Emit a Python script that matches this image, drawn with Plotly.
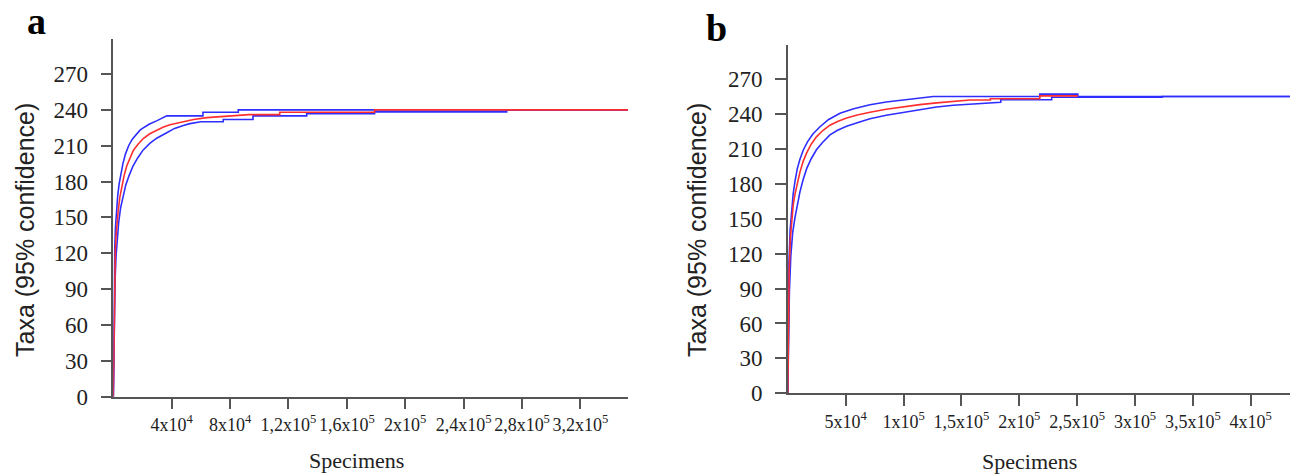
import plotly.graph_objects as go

# ---- panel a : rarefaction (specimens -> taxa); repeated x values mark the plateau steps ----
a_mean_x = [0, 300, 600, 1000, 1400, 1850, 2600, 3400, 4500, 5750, 7400, 9200, 11400, 13700,
            16800, 20500, 25000, 29700, 34000, 38800, 45700, 55000, 64000, 75000, 93000,
            114000, 114000, 179000, 179000, 352600]
a_mean_y = [0, 40, 75, 105, 122, 134, 146, 156, 167, 176, 185, 193, 200, 206,
            211, 216, 220, 223, 225.5, 227.5, 229.5, 232, 233.5, 234.5, 236,
            236, 238, 238, 240, 240]

a_up_x = [0, 300, 600, 1000, 1500, 2200, 3000, 4000, 5200, 6600, 8300, 10500, 13000, 16000,
          18300, 20000, 24500, 30000, 33000, 36600, 61400, 61400, 85600, 85600, 352600]
a_up_y = [0, 60, 100, 125, 142, 157, 168, 178, 187, 195, 203, 210, 215.5, 220,
          223, 224.5, 228, 231, 233, 235, 235, 238, 238, 240, 240]

a_lo_x = [0, 400, 800, 1300, 1900, 2700, 3700, 5000, 6600, 8500, 10800, 13500, 16800, 20500,
          25000, 30000, 36000, 42000, 48000, 52500, 60000, 75300, 75300, 95700, 95700,
          132500, 132500, 179000, 179000, 269500, 269500, 352600]
a_lo_y = [0, 40, 75, 100, 118, 133, 146, 158, 168, 177, 185, 193, 200, 206.5,
          212, 216.5, 220.5, 224.5, 227, 228.5, 230, 230, 232, 232, 235,
          235, 236.8, 236.8, 238.3, 238.3, 240, 240]

# ---- panel b ----
b_mean_x = [0, 500, 1200, 2200, 3400, 4700, 6200, 8200, 10500, 13200, 16300, 20200, 24900,
            30000, 36400, 43000, 50800, 60000, 71000, 85000, 99800, 114000, 128600, 143000,
            157400, 175000, 175000, 217700, 217700, 250600]
b_mean_y = [0, 60, 105, 133, 151, 162, 171, 181, 190, 199, 206.5, 214, 220.5,
            225.5, 230.3, 233.5, 236.5, 239, 241.5, 244, 246.2, 248, 249.5, 250.8,
            252, 252, 253, 253, 255.5, 255.5]

b_up_x = [0, 400, 1000, 2000, 3200, 4600, 6200, 8200, 10500, 13400, 17000, 21500, 27800,
          35000, 45100, 57000, 71000, 85000, 99800, 112000, 125700, 125700, 217700, 217700,
          250600, 250600, 433900]
b_up_y = [0, 70, 112, 140, 158, 171, 182, 193, 201, 209, 216, 222.5, 229,
          235, 240.6, 244.5, 247.8, 250.2, 252, 253.2, 254.5, 255, 255, 257,
          257, 255, 255]

b_lo_x = [0, 600, 1400, 2600, 4200, 6200, 8200, 10500, 13200, 16300, 20200, 24900, 30000,
          36400, 43000, 50800, 60000, 71000, 85000, 99800, 114000, 128600, 143000, 157400,
          172000, 184000, 184000, 228000, 228000, 323500, 323500, 433900]
b_lo_y = [0, 45, 88, 118, 138, 151, 163, 173, 183.5, 193, 201.5, 209.4, 215.5,
          222, 226, 229.4, 232.5, 235.8, 238.8, 241.4, 243.6, 246, 247.5, 248.5,
          249.5, 250, 252.2, 252.2, 254.3, 254.3, 255, 255]

a_tickvals = [40000, 80000, 120000, 160000, 200000, 240000, 280000, 320000]
a_ticktext = ["4x10<sup>4</sup>", "8x10<sup>4</sup>", "1,2x10<sup>5</sup>", "1,6x10<sup>5</sup>",
              "2x10<sup>5</sup>", "2,4x10<sup>5</sup>", "2,8x10<sup>5</sup>", "3,2x10<sup>5</sup>"]
b_tickvals = [50000, 100000, 150000, 200000, 250000, 300000, 350000, 400000]
b_ticktext = ["5x10<sup>4</sup>", "1x10<sup>5</sup>", "1,5x10<sup>5</sup>", "2x10<sup>5</sup>",
              "2,5x10<sup>5</sup>", "3x10<sup>5</sup>", "3,5x10<sup>5</sup>", "4x10<sup>5</sup>"]
y_tickvals = [0, 30, 60, 90, 120, 150, 180, 210, 240, 270]

# body margin is removed after plotting (post_script), so the figure fills the window
W, H = 1298, 474
BLUE = "#2e2eff"
RED = "#ff2e2e"


def px(x):
    return x / W


def py(y):
    return 1 - y / H


fig = go.Figure()


def add_curves(xs_lo, ys_lo, xs_up, ys_up, xs_m, ys_m, xa, ya):
    for xs, ys, c in [(xs_lo, ys_lo, BLUE), (xs_up, ys_up, BLUE), (xs_m, ys_m, RED)]:
        fig.add_trace(go.Scatter(x=xs, y=ys, mode="lines", line=dict(color=c, width=1.6),
                                 xaxis=xa, yaxis=ya, hoverinfo="skip"))


add_curves(a_lo_x, a_lo_y, a_up_x, a_up_y, a_mean_x, a_mean_y, "x", "y")
add_curves(b_lo_x, b_lo_y, b_up_x, b_up_y, b_mean_x, b_mean_y, "x2", "y2")

axis_style = dict(showline=True, linecolor="#555555", linewidth=1.5, ticks="outside", ticklen=11,
                  tickwidth=1.5, tickcolor="#555555", showgrid=False, zeroline=False,
                  automargin=False)
xfont = dict(family="Liberation Serif", size=18, color="#222222")
yfont = dict(family="Liberation Serif", size=23, color="#222222")

fig.update_layout(
    width=W, height=H,
    margin=dict(l=0, r=0, t=0, b=0, autoexpand=False),
    plot_bgcolor="white", paper_bgcolor="white",
    showlegend=False,
    xaxis=dict(axis_style, domain=[px(113.3), px(628)], range=[0, 352600],
               tickvals=a_tickvals, ticktext=a_ticktext, tickfont=xfont, anchor="y"),
    yaxis=dict(axis_style, domain=[py(396.7), py(39)], range=[0, 299.3],
               tickvals=y_tickvals, tickfont=yfont, anchor="x", ticklabelstandoff=8),
    xaxis2=dict(axis_style, domain=[px(787.8), px(1290)], range=[0, 433900],
                tickvals=b_tickvals, ticktext=b_ticktext, tickfont=xfont, anchor="y2"),
    yaxis2=dict(axis_style, domain=[py(393.3), py(45)], range=[0, 299.2],
                tickvals=y_tickvals, tickfont=yfont, anchor="x2", ticklabelstandoff=8),
)

ann = []
for x, y in [(356, 460), (1029, 461)]:
    ann.append(dict(text="Specimens", x=px(x), y=py(y),
                    font=dict(family="Liberation Serif", size=22, color="#222222")))
for x, y in [(25, 230), (697, 230)]:
    ann.append(dict(text="Taxa (95% confidence)", x=px(x), y=py(y), textangle=-90,
                    font=dict(family="Liberation Sans", size=25, color="#222222")))
for t, x, y in [("a", 36, 21), ("b", 716, 28)]:
    ann.append(dict(text="<b>" + t + "</b>", x=px(x), y=py(y),
                    font=dict(family="Liberation Serif", size=38, color="#000000")))
for a in ann:
    a.update(xref="paper", yref="paper", showarrow=False, xanchor="center", yanchor="middle")
fig.update_layout(annotations=ann)

fig.write_html("out.html", config={"displayModeBar": False},
               post_script="document.body.style.margin='0px';")
